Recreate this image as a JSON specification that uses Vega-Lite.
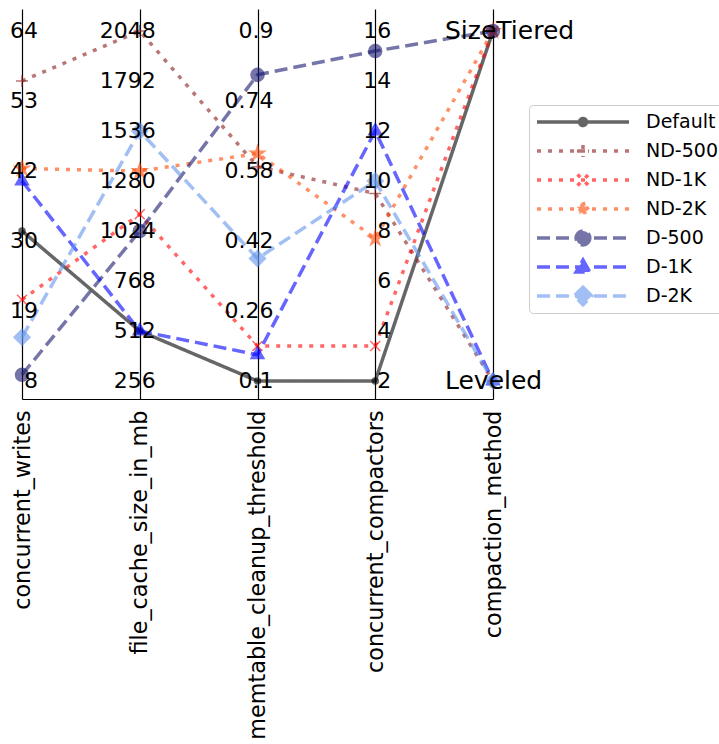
{
  "$schema": "https://vega.github.io/schema/vega-lite/v6.json",
  "width": 471,
  "height": 390,
  "autosize": {"type": "none"},
  "padding": {"left": 22, "top": 9, "right": 226, "bottom": 345},
  "background": "white",
  "config": {"view": {"stroke": null}, "font": "DejaVu Sans"},
  "resolve": {"scale": {"shape": "independent"}, "legend": {"shape": "independent"}},
  "datasets": {
    "ranges": [
      {"param": "concurrent_writes", "lo": 8, "hi": 64},
      {"param": "file_cache_size_in_mb", "lo": 256, "hi": 2048},
      {"param": "memtable_cleanup_threshold", "lo": 0.1, "hi": 0.9},
      {"param": "concurrent_compactors", "lo": 2, "hi": 16},
      {"param": "compaction_method", "lo": 0, "hi": 1}
    ],
    "runs": [
      {"config": "Default", "param": "concurrent_writes", "value": 32},
      {"config": "Default", "param": "file_cache_size_in_mb", "value": 512},
      {"config": "Default", "param": "memtable_cleanup_threshold", "value": 0.1},
      {"config": "Default", "param": "concurrent_compactors", "value": 2},
      {"config": "Default", "param": "compaction_method", "value": 1},
      {"config": "ND-500", "param": "concurrent_writes", "value": 56},
      {"config": "ND-500", "param": "file_cache_size_in_mb", "value": 2048},
      {"config": "ND-500", "param": "memtable_cleanup_threshold", "value": 0.59},
      {"config": "ND-500", "param": "concurrent_compactors", "value": 9.5},
      {"config": "ND-500", "param": "compaction_method", "value": 0},
      {"config": "ND-1K", "param": "concurrent_writes", "value": 21},
      {"config": "ND-1K", "param": "file_cache_size_in_mb", "value": 1110},
      {"config": "ND-1K", "param": "memtable_cleanup_threshold", "value": 0.18},
      {"config": "ND-1K", "param": "concurrent_compactors", "value": 3.4},
      {"config": "ND-1K", "param": "compaction_method", "value": 1},
      {"config": "ND-2K", "param": "concurrent_writes", "value": 42},
      {"config": "ND-2K", "param": "file_cache_size_in_mb", "value": 1331},
      {"config": "ND-2K", "param": "memtable_cleanup_threshold", "value": 0.62},
      {"config": "ND-2K", "param": "concurrent_compactors", "value": 7.7},
      {"config": "ND-2K", "param": "compaction_method", "value": 1},
      {"config": "D-500", "param": "concurrent_writes", "value": 9},
      {"config": "D-500", "param": "file_cache_size_in_mb", "value": 1024},
      {"config": "D-500", "param": "memtable_cleanup_threshold", "value": 0.8},
      {"config": "D-500", "param": "concurrent_compactors", "value": 15.2},
      {"config": "D-500", "param": "compaction_method", "value": 1},
      {"config": "D-1K", "param": "concurrent_writes", "value": 40},
      {"config": "D-1K", "param": "file_cache_size_in_mb", "value": 512},
      {"config": "D-1K", "param": "memtable_cleanup_threshold", "value": 0.16},
      {"config": "D-1K", "param": "concurrent_compactors", "value": 12},
      {"config": "D-1K", "param": "compaction_method", "value": 0},
      {"config": "D-2K", "param": "concurrent_writes", "value": 15},
      {"config": "D-2K", "param": "file_cache_size_in_mb", "value": 1536},
      {"config": "D-2K", "param": "memtable_cleanup_threshold", "value": 0.38},
      {"config": "D-2K", "param": "concurrent_compactors", "value": 10},
      {"config": "D-2K", "param": "compaction_method", "value": 0}
    ],
    "ticks": [
      {"param": "concurrent_writes", "value": 8, "label": "8"},
      {"param": "concurrent_writes", "value": 19.2, "label": "19"},
      {"param": "concurrent_writes", "value": 30.4, "label": "30"},
      {"param": "concurrent_writes", "value": 41.6, "label": "42"},
      {"param": "concurrent_writes", "value": 52.8, "label": "53"},
      {"param": "concurrent_writes", "value": 64, "label": "64"},
      {"param": "file_cache_size_in_mb", "value": 256, "label": "256"},
      {"param": "file_cache_size_in_mb", "value": 512, "label": "512"},
      {"param": "file_cache_size_in_mb", "value": 768, "label": "768"},
      {"param": "file_cache_size_in_mb", "value": 1024, "label": "1024"},
      {"param": "file_cache_size_in_mb", "value": 1280, "label": "1280"},
      {"param": "file_cache_size_in_mb", "value": 1536, "label": "1536"},
      {"param": "file_cache_size_in_mb", "value": 1792, "label": "1792"},
      {"param": "file_cache_size_in_mb", "value": 2048, "label": "2048"},
      {"param": "memtable_cleanup_threshold", "value": 0.1, "label": "0.1"},
      {"param": "memtable_cleanup_threshold", "value": 0.26, "label": "0.26"},
      {"param": "memtable_cleanup_threshold", "value": 0.42, "label": "0.42"},
      {"param": "memtable_cleanup_threshold", "value": 0.58, "label": "0.58"},
      {"param": "memtable_cleanup_threshold", "value": 0.74, "label": "0.74"},
      {"param": "memtable_cleanup_threshold", "value": 0.9, "label": "0.9"},
      {"param": "concurrent_compactors", "value": 2, "label": "2"},
      {"param": "concurrent_compactors", "value": 4, "label": "4"},
      {"param": "concurrent_compactors", "value": 6, "label": "6"},
      {"param": "concurrent_compactors", "value": 8, "label": "8"},
      {"param": "concurrent_compactors", "value": 10, "label": "10"},
      {"param": "concurrent_compactors", "value": 12, "label": "12"},
      {"param": "concurrent_compactors", "value": 14, "label": "14"},
      {"param": "concurrent_compactors", "value": 16, "label": "16"}
    ],
    "methods": [
      {"param": "compaction_method", "value": 0, "label": "Leveled"},
      {"param": "compaction_method", "value": 1, "label": "SizeTiered"}
    ]
  },
  "encoding": {
    "x": {
      "field": "param",
      "type": "nominal",
      "sort": ["concurrent_writes", "file_cache_size_in_mb", "memtable_cleanup_threshold", "concurrent_compactors", "compaction_method"],
      "scale": {"type": "point", "padding": 0},
      "axis": {
        "title": null,
        "orient": "bottom",
        "labelAngle": -90,
        "labelFontSize": 22.3,
        "labelFont": "DejaVu Sans",
        "labelColor": "black",
        "labelPadding": 11,
        "labelLimit": 0,
        "ticks": false,
        "tickSize": 0,
        "domain": true,
        "domainColor": "black",
        "domainWidth": 1.2,
        "grid": true,
        "gridColor": "black",
        "gridWidth": 1.2,
        "gridOpacity": 1
      }
    }
  },
  "layer": [
    {
      "data": {"name": "runs"},
      "transform": [
        {"lookup": "param", "from": {"data": {"name": "ranges"}, "key": "param", "fields": ["lo", "hi"]}},
        {"calculate": "(datum.value - datum.lo) / (datum.hi - datum.lo)", "as": "norm"}
      ],
      "mark": {"type": "line", "strokeWidth": 3.5, "opacity": 0.6},
      "encoding": {
        "y": {"field": "norm", "type": "quantitative", "scale": {"domain": [-0.0514, 1.0629], "nice": false, "zero": false}, "axis": null},
        "order": {"value": null},
        "color": {
          "field": "config",
          "type": "nominal",
          "scale": {
            "domain": ["Default", "ND-500", "ND-1K", "ND-2K", "D-500", "D-1K", "D-2K"],
            "range": ["#000000", "#8b1a1a", "#ff0000", "#ff4500", "#191970", "#0000ff", "#6495ed"]
          },
          "legend": {
            "title": null,
            "orient": "none",
            "legendX": 507,
            "legendY": 96,
            "padding": 6,
            "strokeColor": "#cccccc",
            "fillColor": "white",
            "cornerRadius": 4,
            "labelFontSize": 19,
            "labelFont": "DejaVu Sans",
            "labelColor": "black",
            "symbolSize": 8464,
            "symbolStrokeWidth": 3.5,
            "symbolOpacity": 0.8,
            "symbolType": {"expr": "datum.value === 'Default' ? 'M-1,0H1M0.076,0A0.076,0.076,0,1,1,-0.076,0A0.076,0.076,0,1,1,0.076,0Z' : datum.value === 'ND-500' ? 'M-1,0H1M-0.13,0H0.13M0,-0.13V0.13' : datum.value === 'ND-1K' ? 'M-1,0H1M-0.12,-0.12L0.12,0.12M-0.12,0.12L0.12,-0.12' : datum.value === 'ND-2K' ? 'M-1,0H1M0,-0.15L0.0337,-0.0464L0.1427,-0.0464L0.0545,0.0177L0.0882,0.1214L0,0.0573L-0.0882,0.1214L-0.0545,0.0177L-0.1427,-0.0464L-0.0337,-0.0464Z' : datum.value === 'D-500' ? 'M-1,0H1M0.15,0A0.15,0.15,0,1,1,-0.15,0A0.15,0.15,0,1,1,0.15,0Z' : datum.value === 'D-1K' ? 'M-1,0H1M0,-0.15L0.15,0.11L-0.15,0.11Z' : 'M-1,0H1M0,-0.19L0.19,0L0,0.19L-0.19,0Z'"},
            "symbolFillColor": {"expr": "scale('color', datum.value)"},
            "clipHeight": 22,
            "rowPadding": 7,
            "labelOffset": 15,
            "symbolOffset": 0
          }
        },
        "strokeDash": {
          "field": "config",
          "type": "nominal",
          "scale": {
            "domain": ["Default", "ND-500", "ND-1K", "ND-2K", "D-500", "D-1K", "D-2K"],
            "range": [[1, 0], [4, 7], [4, 7], [4, 7], [13, 6], [13, 6], [13, 6]]
          },
          "legend": {"title": null}
        }
      }
    },
    {
      "data": {"name": "runs"},
      "transform": [
        {"lookup": "param", "from": {"data": {"name": "ranges"}, "key": "param", "fields": ["lo", "hi"]}},
        {"calculate": "(datum.value - datum.lo) / (datum.hi - datum.lo)", "as": "norm"}
      ],
      "mark": {"type": "point", "filled": true, "opacity": 0.6, "strokeWidth": 1.5, "size": 256},
      "encoding": {
        "y": {"field": "norm", "type": "quantitative", "scale": {"domain": [-0.0514, 1.0629], "nice": false, "zero": false}, "axis": null},
        "color": {"field": "config", "type": "nominal", "legend": null},
        "stroke": {
          "field": "config",
          "type": "nominal",
          "scale": {
            "domain": ["Default", "ND-500", "ND-1K", "ND-2K", "D-500", "D-1K", "D-2K"],
            "range": ["#000000", "#8b1a1a", "#ff0000", "#ff4500", "#191970", "#0000ff", "#6495ed"]
          },
          "legend": null
        },
        "shape": {
          "field": "config",
          "type": "nominal",
          "scale": {
            "domain": ["Default", "ND-500", "ND-1K", "ND-2K", "D-500", "D-1K", "D-2K"],
            "range": [
              "M0.375,0A0.375,0.375,0,1,1,-0.375,0A0.375,0.375,0,1,1,0.375,0Z",
              "M-0.75,0H0.75M0,-0.75V0.75",
              "M-0.625,-0.625L0.625,0.625M-0.625,0.625L0.625,-0.625",
              "M0,-0.94L0.211,-0.29L0.894,-0.29L0.3415,0.111L0.5525,0.7605L0,0.359L-0.5525,0.7605L-0.3415,0.111L-0.894,-0.29L-0.211,-0.29Z",
              "M0.8125,0A0.8125,0.8125,0,1,1,-0.8125,0A0.8125,0.8125,0,1,1,0.8125,0Z",
              "M0,-0.94L0.8125,0.47L-0.8125,0.47Z",
              "M0,-1L1,0L0,1L-1,0Z"
            ]
          },
          "legend": null
        }
      }
    },
    {
      "data": {"name": "ticks"},
      "transform": [
        {"lookup": "param", "from": {"data": {"name": "ranges"}, "key": "param", "fields": ["lo", "hi"]}},
        {"calculate": "(datum.value - datum.lo) / (datum.hi - datum.lo)", "as": "norm"}
      ],
      "mark": {"type": "text", "align": "right", "baseline": "middle", "dx": 16, "fontSize": 22, "font": "DejaVu Sans", "color": "black"},
      "encoding": {
        "y": {"field": "norm", "type": "quantitative", "scale": {"domain": [-0.0514, 1.0629], "nice": false, "zero": false}, "axis": null},
        "text": {"field": "label", "type": "nominal"}
      }
    },
    {
      "data": {"name": "methods"},
      "transform": [
        {"lookup": "param", "from": {"data": {"name": "ranges"}, "key": "param", "fields": ["lo", "hi"]}},
        {"calculate": "(datum.value - datum.lo) / (datum.hi - datum.lo)", "as": "norm"}
      ],
      "mark": {"type": "text", "align": "left", "baseline": "middle", "dx": -48, "fontSize": 25, "font": "DejaVu Sans", "color": "black"},
      "encoding": {
        "y": {"field": "norm", "type": "quantitative", "scale": {"domain": [-0.0514, 1.0629], "nice": false, "zero": false}, "axis": null},
        "text": {"field": "label", "type": "nominal"}
      }
    }
  ]
}
